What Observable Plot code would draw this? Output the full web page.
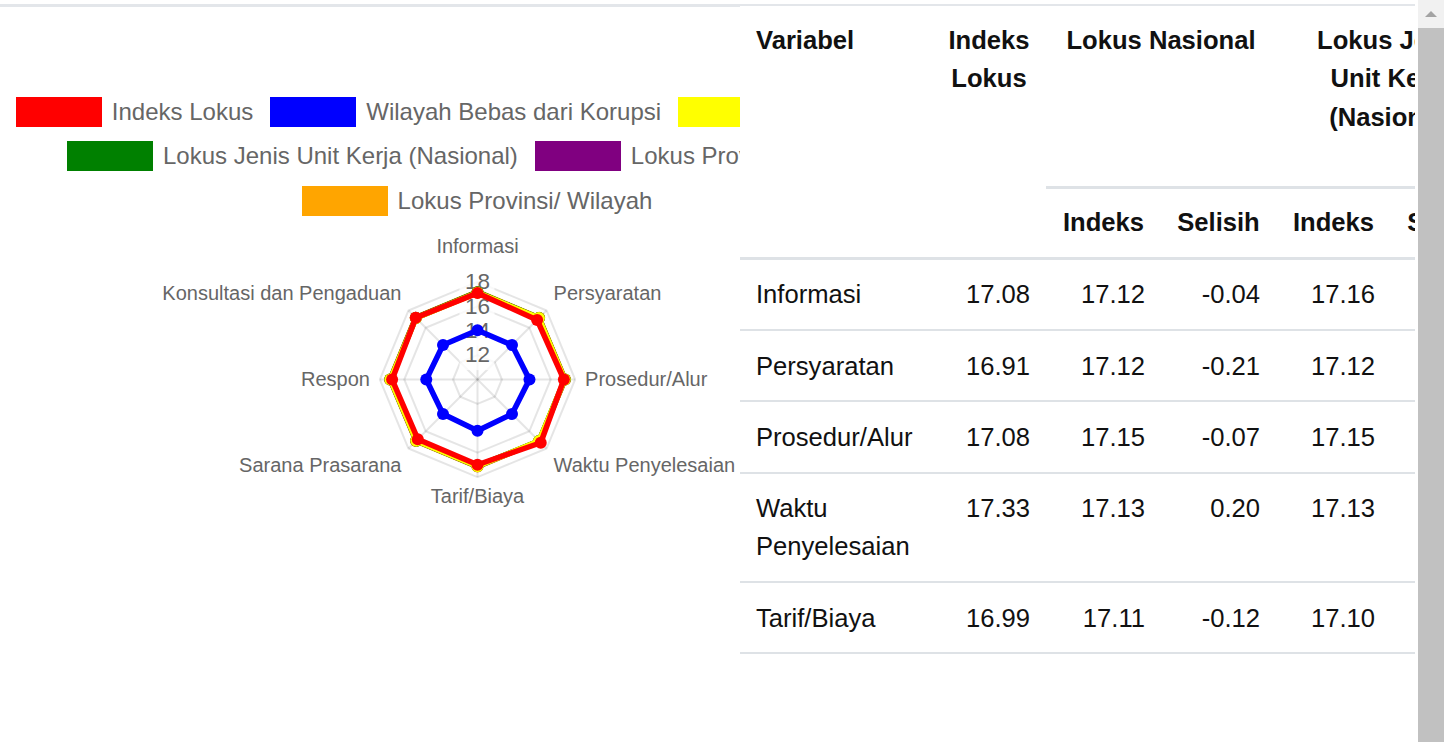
<!DOCTYPE html>
<html><head><meta charset="utf-8">
<script src="https://cdn.jsdelivr.net/npm/d3@7"></script>
<script src="https://cdn.jsdelivr.net/npm/@observablehq/plot@0.6"></script>
<style>
html,body{margin:0;padding:0;background:#fff;overflow:hidden;width:1444px;height:742px;}
body{position:relative;font-family:"Liberation Sans",Arial,sans-serif;}
#topline{position:absolute;left:0;top:4px;width:740px;height:3px;background:#e3e6ea;}
#legend{position:absolute;left:0;top:97px;width:954px;}
.lrow{display:flex;justify-content:center;height:44.3px;}
.litem{display:flex;align-items:center;margin:0 8.5px;height:30px;}
.lbox{width:86px;height:30px;margin-right:10px;flex:none;}
.ltext{font-size:24px;color:#666;line-height:30px;white-space:nowrap;}
#plot{position:absolute;left:0;top:220px;}
#tablewrap{position:absolute;left:740px;top:4px;width:675px;height:738px;overflow:hidden;background:#fff;border-top:2px solid #e3e6ea;}
table{border-collapse:collapse;table-layout:fixed;width:766px;color:#111;}
th,td{font-size:25.6px;line-height:38.4px;padding:15px 16px;overflow:hidden;}
th{font-weight:bold;vertical-align:top;}
td{vertical-align:top;border-bottom:2px solid #dee2e6;padding-top:15.5px;padding-bottom:15.3px;}
td.num{text-align:right;}
tr.h1 th{border-bottom:3px solid #dee2e6;text-align:center;}
tr.h1 th.first{text-align:left;}
tr.h2 th{border-bottom:3px solid #dee2e6;text-align:center;padding-top:14px;padding-bottom:16px;}
#sb{position:absolute;left:1418px;top:0;width:26px;height:742px;background:#f1f1f1;}
#sbthumb{position:absolute;left:1418px;top:28px;width:26px;height:714px;background:#c1c1c1;}
#sbarrow{position:absolute;left:1425px;top:11px;width:0;height:0;border-left:6px solid transparent;border-right:6px solid transparent;border-bottom:6px solid #a3a3a3;}
</style>
</head>
<body>
<div id="topline"></div>
<div id="legend"></div>
<div id="plot"></div>
<div id="tablewrap"></div>
<div id="sb"></div><div id="sbthumb"></div><div id="sbarrow"></div>
<script>
// ---------- DATA ----------
const categories = ["Informasi","Persyaratan","Prosedur/Alur","Waktu Penyelesaian","Tarif/Biaya","Sarana Prasarana","Respon","Konsultasi dan Pengaduan"];
const seriesNames = ["Indeks Lokus","Wilayah Bebas dari Korupsi","Lokus Nasional","Lokus Jenis Unit Kerja (Nasional)","Lokus Provinsi Nasional","Lokus Provinsi/ Wilayah"];
const seriesColors = ["#ff0000","#0000ff","#ffff00","#008000","#800080","#ffa500"];
const indeksLokus      = [17.08,16.91,17.08,17.33,16.99,16.92,17.00,17.15];
const wilayahBebas     = [14.03,14.00,14.26,14.00,14.20,14.00,14.20,14.00];
const lokusNasional    = [17.12,17.12,17.15,17.13,17.11,17.10,17.14,17.13];
const lokusJenisUnit   = [17.16,17.12,17.15,17.13,17.10,17.09,17.14,17.14];
const lokusProvNasional= [17.14,17.13,17.16,17.14,17.12,17.11,17.15,17.15];
const lokusProvinsi    = [17.18,17.15,17.18,17.16,17.14,17.13,17.17,17.17];
const radialTicks = [12,14,16,18];
const radialMin = 10, radialMax = 18;

const tableVariabel = ["Informasi","Persyaratan","Prosedur/Alur","Waktu Penyelesaian","Tarif/Biaya"];
const tableIndeksLokus = [17.08,16.91,17.08,17.33,16.99];
const tableNasIndeks   = [17.12,17.12,17.15,17.13,17.11];
const tableNasSelisih  = [-0.04,-0.21,-0.07,0.20,-0.12];
const tableJenisIndeks = [17.16,17.12,17.15,17.13,17.10];
const tableJenisSelisih= [-0.08,-0.21,-0.07,0.20,-0.11];
const headerTop = ["Variabel","Indeks Lokus","Lokus Nasional","Lokus Jenis Unit Kerja (Nasional)"];
const headerSub = ["Indeks","Selisih","Indeks","Selisih"];

// ---------- LEGEND ----------
const legendRows = [[0,1,2],[3,4],[5]];
const legend = document.getElementById("legend");
legendRows.forEach(row => {
  const r = document.createElement("div"); r.className = "lrow";
  row.forEach(k => {
    const it = document.createElement("div"); it.className = "litem";
    const b = document.createElement("div"); b.className = "lbox"; b.style.background = seriesColors[k];
    const t = document.createElement("div"); t.className = "ltext"; t.textContent = seriesNames[k];
    it.append(b, t); r.append(it);
  });
  legend.append(r);
});

// ---------- RADAR ----------
const W = 954, H = 320, cx = 477, cy = 159;
const PX = 97.6 / (radialMax - radialMin);   // pixels per value unit
const n = categories.length;
const ang = i => i * 2 * Math.PI / n;
const px = (v, i) => (v - radialMin) * Math.sin(ang(i));
const py = (v, i) => (v - radialMin) * Math.cos(ang(i));

const seriesValues = [indeksLokus, wilayahBebas, lokusNasional, lokusJenisUnit, lokusProvNasional, lokusProvinsi];
const rows = seriesNames.map((s, k) => categories.map((c, i) => ({series: s, category: c, i, value: seriesValues[k][i]})));

const gridColor = "rgba(0,0,0,0.1)";
const marks = [];
radialTicks.forEach(t => {
  marks.push(Plot.line(categories.map((c, i) => ({i, v: t})), {x: d => px(d.v, d.i), y: d => py(d.v, d.i), stroke: gridColor, strokeWidth: 2, curve: "linear-closed"}));
});
marks.push(Plot.link(categories, {x1: 0, y1: 0, x2: (c, i) => px(radialMax, i), y2: (c, i) => py(radialMax, i), stroke: gridColor, strokeWidth: 2}));
const bw = 17.5 / PX, bh = 15.5 / PX;
marks.push(Plot.rect(radialTicks, {x1: -bw, x2: bw, y1: t => t - radialMin - bh, y2: t => t - radialMin + bh, fill: "white", fillOpacity: 0.75}));
marks.push(Plot.text(radialTicks, {x: 0, y: t => t - radialMin, text: t => String(t), fontSize: 22.5, fill: "#666", lineAnchor: "middle"}));

// point labels
categories.forEach((c, i) => {
  const deg = i * 360 / n;
  const textAnchor = (deg === 0 || deg === 180) ? "middle" : deg < 180 ? "start" : "end";
  const lineAnchor = (deg === 90 || deg === 270) ? "middle" : (deg > 270 || deg < 90) ? "bottom" : "top";
  const rr = (radialMax - radialMin) + (10 + (i === 0 ? 15.5 : 0)) / PX;
  marks.push(Plot.text([c], {
    x: () => rr * Math.sin(ang(i)), y: () => rr * Math.cos(ang(i)), text: d => d,
    textAnchor, lineAnchor, fontSize: 20, fill: "#666",
    dy: lineAnchor === "bottom" ? -3 : lineAnchor === "top" ? 2 : 0
  }));
});

// datasets: last drawn first so first series is on top
for (let k = rows.length - 1; k >= 0; k--) {
  const d = rows[k];
  marks.push(Plot.line(d, {x: r => px(r.value, r.i), y: r => py(r.value, r.i), stroke: "series", strokeWidth: 5.5, curve: "linear-closed"}));
  marks.push(Plot.dot(d, {x: r => px(r.value, r.i), y: r => py(r.value, r.i), fill: "series", r: 6}));
}

const chart = Plot.plot({
  width: W, height: H, margin: 0,
  x: {domain: [-cx / PX, (W - cx) / PX], axis: null},
  y: {domain: [-(H - cy) / PX, cy / PX], axis: null},
  color: {domain: seriesNames, range: seriesColors},
  style: {fontFamily: "Liberation Sans, Arial, sans-serif", background: "transparent", overflow: "visible"},
  marks
});
document.getElementById("plot").append(chart);

// ---------- TABLE ----------
const fmt = v => v.toFixed(2);
let html = '<table><colgroup><col style="width:192px"><col style="width:114px"><col style="width:115px"><col style="width:115px"><col style="width:115px"><col style="width:115px"></colgroup>';
html += '<thead><tr class="h1" style="height:181px">';
html += `<th class="first" rowspan="2">${headerTop[0]}</th><th rowspan="2">${headerTop[1]}</th><th colspan="2">${headerTop[2]}</th><th colspan="2">${headerTop[3]}</th></tr>`;
html += '<tr class="h2">' + headerSub.map(h => `<th>${h}</th>`).join("") + '</tr></thead><tbody>';
tableVariabel.forEach((v, j) => {
  html += `<tr><td>${v}</td><td class="num">${fmt(tableIndeksLokus[j])}</td><td class="num">${fmt(tableNasIndeks[j])}</td><td class="num">${fmt(tableNasSelisih[j])}</td><td class="num">${fmt(tableJenisIndeks[j])}</td><td class="num">${fmt(tableJenisSelisih[j])}</td></tr>`;
});
html += '</tbody></table>';
document.getElementById("tablewrap").innerHTML = html;
</script>
</body></html>
